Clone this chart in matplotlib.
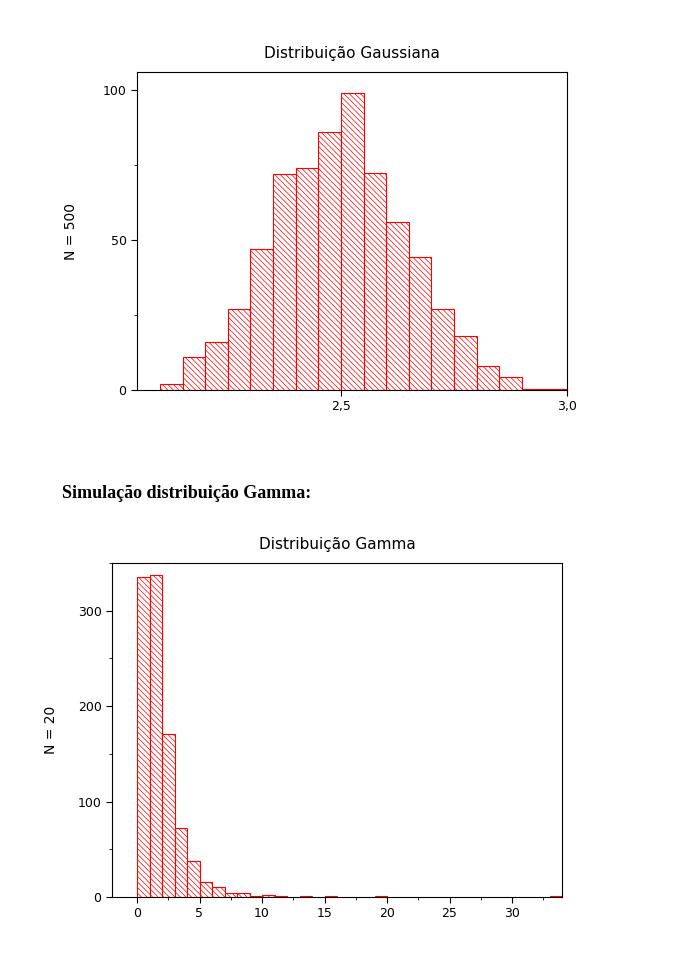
import matplotlib
matplotlib.use("Agg")
import matplotlib.pyplot as plt
from matplotlib.ticker import MultipleLocator
plt.rcParams['hatch.color'] = 'red'
plt.rcParams['hatch.linewidth'] = 0.5

gauss_edges = [2.10, 2.15, 2.20, 2.25, 2.30, 2.35, 2.40, 2.45, 2.50, 2.55, 2.60, 2.65, 2.70, 2.75, 2.80, 2.85, 2.90, 2.95]
gauss_counts = [2, 11, 16, 27, 47, 72, 74, 86, 99, 72.5, 56, 44.5, 27, 18, 8, 4.5, 0.5, 0.5]
gamma_edges = [0, 1, 2, 3, 4, 5, 6, 7, 8, 9, 10, 11, 13, 15, 19, 33]
gamma_counts = [335, 337, 171, 72, 38, 16, 10, 4, 4, 1, 2, 1, 1, 1, 1, 1]

W, H = 674, 976
fig = plt.figure(figsize=(W/100, H/100), dpi=100)

def ax_px(l, t, r, b):
    return fig.add_axes([l/W, 1-b/H, (r-l)/W, (b-t)/H])

ax1 = ax_px(137, 72, 567, 390)
ax1.bar(gauss_edges, gauss_counts, width=0.05, align='edge', facecolor='white',
        edgecolor='red', hatch='\\' * 6, linewidth=0.8)
ax1.set_xlim(2.049, 3.0)
ax1.set_ylim(0, 106)
ax1.set_xticks([2.5, 3.0]); ax1.set_xticklabels(['2,5', '3,0'])
ax1.set_yticks([0, 50, 100])
ax1.yaxis.set_minor_locator(MultipleLocator(25))
ax1.set_ylabel('N = 500', fontsize=10, labelpad=18)
ax1.set_title('Distribuição Gaussiana', fontsize=11, pad=10)

ax2 = ax_px(112, 563, 562, 897)
ax2.bar(gamma_edges, gamma_counts, width=1, align='edge', facecolor='white',
        edgecolor='red', hatch='\\' * 6, linewidth=0.8)
ax2.set_xlim(-2, 34)
ax2.set_ylim(0, 350)
ax2.set_xticks([0, 5, 10, 15, 20, 25, 30])
ax2.set_yticks([0, 100, 200, 300])
ax2.xaxis.set_minor_locator(MultipleLocator(2.5))
ax2.yaxis.set_minor_locator(MultipleLocator(50))
ax2.set_ylabel('N = 20', fontsize=10, labelpad=14)
ax2.set_title('Distribuição Gamma', fontsize=11, pad=10)

for ax in (ax1, ax2):
    ax.tick_params(labelsize=9, direction='out', length=4)
    ax.tick_params(which='minor', length=2)

fig.text(62/W, 1-493/H, 'Simulação distribuição Gamma:', fontsize=13, fontweight='bold',
         family='Liberation Serif', va='center')

fig.savefig('out.png', dpi=100, facecolor='white')
